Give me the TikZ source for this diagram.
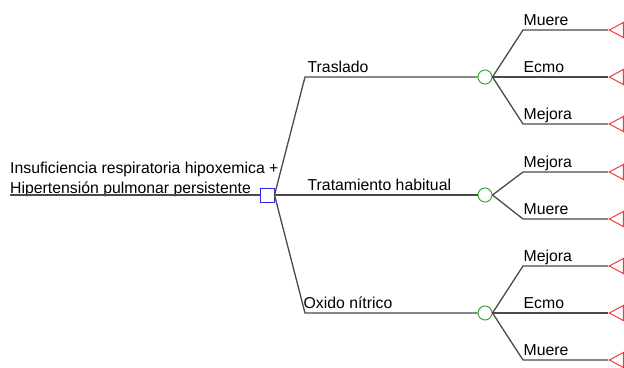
\documentclass[tikz,border=0pt]{standalone}
\usepackage{fontspec}
\setmainfont{Liberation Sans}
\usetikzlibrary{shapes.geometric}
\definecolor{lgray}{HTML}{4A4A4A}
\definecolor{dblue}{HTML}{2828F0}
\definecolor{cgreen}{HTML}{3AAA3A}
\definecolor{tred}{HTML}{F03C3C}
\begin{document}
\begin{tikzpicture}[x=1pt,y=-1pt,
  edge/.style={draw=lgray, line width=1.3pt},
  decision/.style={draw=dblue, line width=1pt, rectangle, minimum size=14pt, inner sep=0pt},
  chance/.style={draw=cgreen, line width=1pt, circle, minimum size=14pt, inner sep=0pt},
  term/.style={draw=tred, line width=1pt, isosceles triangle, shape border rotate=180,
    isosceles triangle stretches, minimum width=15pt, minimum height=14pt, inner sep=0pt, anchor=apex},
  lab/.style={font=\fontsize{15.8}{18}\selectfont, anchor=base west, inner sep=0pt}
]
\useasboundingbox (0,0) rectangle (624,367);

% root
\coordinate (r0) at (10,195);
\node[decision] (root) at (267,195) {};
\node[lab, align=left, anchor=base west] (rtext) at (10,193)
  {Insuficiencia respiratoria hipoxemica +\\[2pt]Hipertensión pulmonar persistente};
\draw[edge] (r0) -- (root.west);

% chance nodes
\node[chance] (c1) at (485,77) {};
\node[chance] (c2) at (485,195) {};
\node[chance] (c3) at (485,313) {};

\coordinate (k1) at (305,77);
\coordinate (k2) at (305,195);
\coordinate (k3) at (305,313);

\draw[edge] (root.east) -- (k1) -- node[pos=0, lab, anchor=base west, yshift=5pt, xshift=2pt] {Traslado} (c1.west);
\draw[edge] (root.east) -- (k2) -- node[pos=0, lab, anchor=base west, yshift=5pt, xshift=2pt] {Tratamiento habitual} (c2.west);
\draw[edge] (root.east) -- (k3) -- node[pos=0, lab, anchor=base west, yshift=5pt, xshift=-2pt] {Oxido nítrico} (c3.west);

% terminals
\foreach \n/\y in {t1/30,t2/77,t3/124,t4/172,t5/219,t6/266,t7/313,t8/360}{
  \node[term] (\n) at (608,\y) {};
  \coordinate (j\n) at (523,\y);
}

\draw[edge] (c1.east) -- (jt1) -- node[pos=0, lab, yshift=5pt] {Muere} (t1.apex);
\draw[edge] (c1.east) -- (jt2) -- node[pos=0, lab, yshift=5pt] {Ecmo} (t2.apex);
\draw[edge] (c1.east) -- (jt3) -- node[pos=0, lab, yshift=5pt] {Mejora} (t3.apex);
\draw[edge] (c2.east) -- (jt4) -- node[pos=0, lab, yshift=5pt] {Mejora} (t4.apex);
\draw[edge] (c2.east) -- (jt5) -- node[pos=0, lab, yshift=5pt] {Muere} (t5.apex);
\draw[edge] (c3.east) -- (jt6) -- node[pos=0, lab, yshift=5pt] {Mejora} (t6.apex);
\draw[edge] (c3.east) -- (jt7) -- node[pos=0, lab, yshift=5pt] {Ecmo} (t7.apex);
\draw[edge] (c3.east) -- (jt8) -- node[pos=0, lab, yshift=5pt] {Muere} (t8.apex);
\end{tikzpicture}
\end{document}
